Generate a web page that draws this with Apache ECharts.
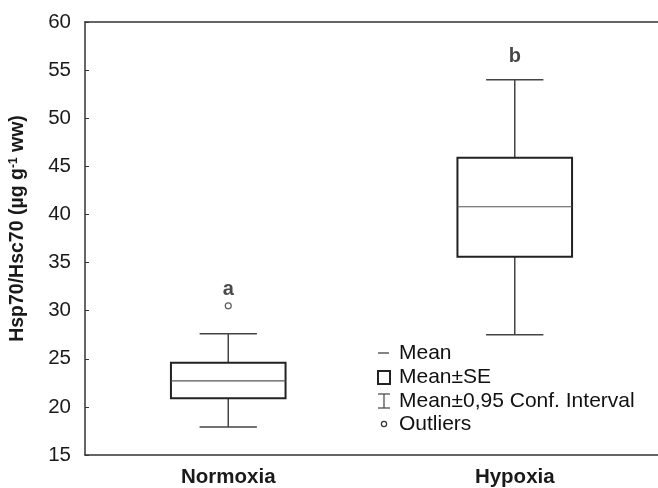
<!DOCTYPE html>
<html>
<head>
<meta charset="utf-8">
<script src="https://cdn.jsdelivr.net/npm/echarts@6/dist/echarts.min.js"></script>
<style>
  html, body { margin: 0; padding: 0; background: #fff; overflow: hidden; }
  #main { width: 658px; height: 488px; }
</style>
</head>
<body>
<div id="main"></div>
<script>
// categories and values
const groups = ['Normoxia', 'Hypoxia'];
const ciLow = [17.9, 27.5];   // Mean-0,95 CI
const seLow = [20.9, 35.6];   // Mean-SE
const means = [22.7, 40.8];   // Mean
const seHigh = [24.6, 45.9];  // Mean+SE
const ciHigh = [27.6, 54.0];  // Mean+0,95 CI
const outliers = [[0, 30.5]];
const letters = ['a', 'b'];
const letterY = [32.2, 56.4];
const yTicks = [15, 20, 25, 30, 35, 40, 45, 50, 55, 60];

const FONT = '"Liberation Sans", Arial, sans-serif';

const boxData = groups.map((g, i) => [i, ciLow[i], seLow[i], means[i], seHigh[i], ciHigh[i]]);

// 箱体 + 须线
const renderBox = (params, api) => {
  const idx = api.value(0);
  const band = api.size([1, 0])[0];
  const hw = band * 0.2;
  const cw = band * 0.1;
  const pLo = api.coord([idx, api.value(1)]);
  const pSeLo = api.coord([idx, api.value(2)]);
  const pMean = api.coord([idx, api.value(3)]);
  const pSeHi = api.coord([idx, api.value(4)]);
  const pHi = api.coord([idx, api.value(5)]);
  const x = pMean[0];
  const whisker = { stroke: '#444', lineWidth: 1.5 };
  return {
    type: 'group',
    children: [
      { type: 'line', shape: { x1: x, y1: pSeHi[1], x2: x, y2: pHi[1] }, style: whisker },
      { type: 'line', shape: { x1: x, y1: pSeLo[1], x2: x, y2: pLo[1] }, style: whisker },
      { type: 'line', shape: { x1: x - cw, y1: pHi[1], x2: x + cw, y2: pHi[1] }, style: whisker },
      { type: 'line', shape: { x1: x - cw, y1: pLo[1], x2: x + cw, y2: pLo[1] }, style: whisker },
      { type: 'rect', shape: { x: x - hw, y: pSeHi[1], width: hw * 2, height: pSeLo[1] - pSeHi[1] },
        style: { fill: '#fff', stroke: '#222', lineWidth: 2 } },
      { type: 'line', shape: { x1: x - hw, y1: pMean[1], x2: x + hw, y2: pMean[1] },
        style: { stroke: '#555', lineWidth: 1.2 } }
    ]
  };
};

const legendItems = ['Mean', 'Mean±SE', 'Mean±0,95 Conf. Interval', 'Outliers'];
const legendY = [353, 377, 401, 424];
const lx = 378;
const legendGraphics = [
  { type: 'line', shape: { x1: lx, y1: legendY[0], x2: lx + 11, y2: legendY[0] }, style: { stroke: '#333', lineWidth: 1.2 } },
  { type: 'rect', shape: { x: lx, y: legendY[1] - 6, width: 12, height: 13 }, style: { fill: '#fff', stroke: '#222', lineWidth: 2 } },
  { type: 'line', shape: { x1: lx + 6, y1: legendY[2] - 7, x2: lx + 6, y2: legendY[2] + 7 }, style: { stroke: '#444', lineWidth: 1.2 } },
  { type: 'line', shape: { x1: lx, y1: legendY[2] - 7, x2: lx + 12, y2: legendY[2] - 7 }, style: { stroke: '#444', lineWidth: 1.2 } },
  { type: 'line', shape: { x1: lx, y1: legendY[2] + 7, x2: lx + 12, y2: legendY[2] + 7 }, style: { stroke: '#444', lineWidth: 1.2 } },
  { type: 'circle', shape: { cx: lx + 6, cy: legendY[3], r: 2.6 }, style: { fill: '#fff', stroke: '#333', lineWidth: 1.2 } }
].concat(legendItems.map((t, i) => ({
  type: 'text', x: lx + 21, y: legendY[i],
  style: { text: t, font: '21px ' + FONT, fill: '#111', verticalAlign: 'middle' }
})));

const option = {
  animation: false,
  grid: { left: 85, right: -3, top: 22, bottom: 33 },
  xAxis: [
    {
      type: 'category',
      data: groups,
      axisLine: { lineStyle: { color: '#333', width: 1.5 } },
      axisTick: { inside: true, length: 3, alignWithLabel: true, lineStyle: { color: '#333' } },
      axisLabel: { fontFamily: FONT, fontSize: 20.5, fontWeight: 'bold', color: '#1a1a1a', margin: 12 },
      splitLine: { show: false }
    },
    {
      // 顶部边框线
      type: 'category',
      position: 'top',
      data: groups,
      axisLine: { show: true, lineStyle: { color: '#333', width: 1.5 } },
      axisTick: { show: false },
      axisLabel: { show: false },
      splitLine: { show: false }
    }
  ],
  yAxis: {
    type: 'value',
    min: 15, max: 60, interval: 5,
    axisLine: { show: true, lineStyle: { color: '#333', width: 1.5 } },
    axisTick: { show: true, inside: true, length: 4, lineStyle: { color: '#333' } },
    axisLabel: { fontFamily: FONT, fontSize: 20.5, color: '#1a1a1a', margin: 14,
      formatter: v => yTicks.includes(v) ? String(v) : '' },
    splitLine: { show: false },
    name: '{n|Hsp70/Hsc70 (µg g}{s|-1}{n| ww)}',
    nameLocation: 'middle',
    nameRotate: 90,
    nameGap: 57,
    nameTextStyle: {
      padding: [0, 0, 0, 20],
      rich: {
        n: { fontFamily: FONT, fontSize: 19.5, fontWeight: 'bold', color: '#1a1a1a' },
        s: { fontFamily: FONT, fontSize: 12, fontWeight: 'bold', color: '#1a1a1a', verticalAlign: 'top', padding: [0, 0, 8, 0] }
      }
    }
  },
  series: [
    {
      type: 'custom',
      renderItem: renderBox,
      data: boxData,
      encode: { x: 0, y: [1, 2, 3, 4, 5] },
      z: 2
    },
    {
      type: 'scatter',
      data: outliers,
      symbol: 'circle',
      symbolSize: 6,
      itemStyle: { color: '#fff', borderColor: '#333', borderWidth: 1.2 },
      z: 3
    },
    {
      type: 'scatter',
      data: letters.map((l, i) => [i, letterY[i]]),
      symbolSize: 0,
      label: {
        show: true, position: 'inside',
        formatter: p => letters[p.dataIndex],
        fontFamily: FONT, fontSize: 20, fontWeight: 'bold', color: '#1a1a1a'
      }
    }
  ],
  graphic: legendGraphics
};

const myChart = echarts.init(document.getElementById('main'));
myChart.setOption(option);
</script>
</body>
</html>
